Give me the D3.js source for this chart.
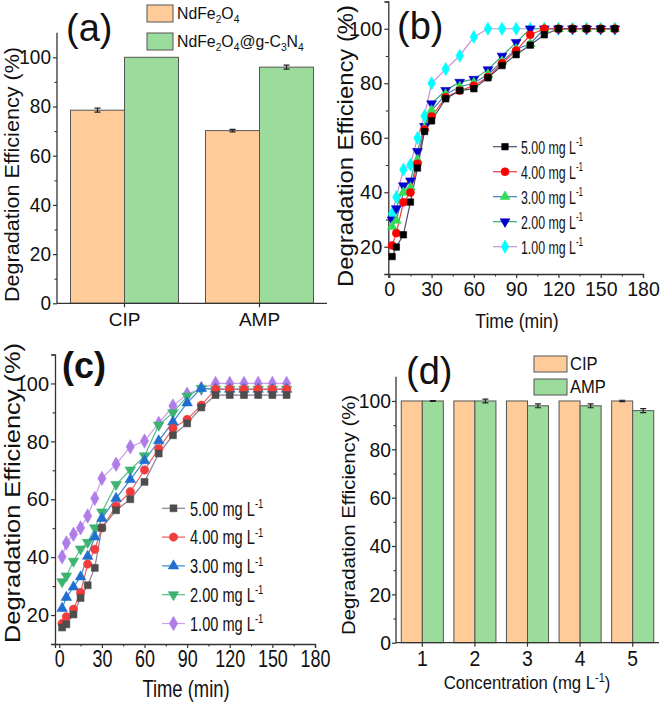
<!DOCTYPE html>
<html><head><meta charset="utf-8">
<script src="https://cdn.jsdelivr.net/npm/d3@7"></script>
<style>html,body{margin:0;padding:0;background:#fff}svg{display:block;font-family:"Liberation Sans",Arial,sans-serif}</style>
</head><body>
<svg id="c" width="661" height="702"></svg>
<script>
// ---------- data ----------
const catsA = ["CIP", "AMP"];
const aNdFe = [78.5, 70.2];
const aNdFeErr = [0.8, 0.5];
const aComp = [100, 96];
const aCompErr = [0, 0.8];

const timeMin = [2,5,10,15,20,25,30,40,50,60,70,80,90,100,110,120,130,140,150,160];
const b5 = [16.4,19.9,24.4,36.4,48.9,62.3,66.2,74.3,77.3,78.0,82.0,86.5,90.5,94.0,97.8,100,100,100,100,100];
const b4 = [20.5,25.0,36.3,39.9,50.5,63.0,67.8,74.9,77.3,79.1,82.3,87.3,92.0,97.8,100,100,100,100,100,100];
const b3 = [27.4,29.7,39.9,41.8,51.9,63.5,70.0,75.9,78.7,80.1,83.2,88.0,92.5,94.5,100,100,100,100,100,100];
const b2 = [29.9,34.0,42.4,44.2,55.0,64.2,72.5,77.4,80.4,81.5,85.0,90.0,95.0,100,100,100,100,100,100,100];
const b1 = [32.1,38.2,48.3,50.1,59.9,68.0,80.0,85.2,90.1,97.0,100,100,100,100,100,100,100,100,100,100];

const c5 = [15.7,16.8,20.2,25.9,30.3,36.3,50.1,56.2,60.0,66.0,75.8,82.1,86.2,91.7,96,96,96,96,96,96];
const c4 = [17.1,19.4,22.0,27.8,37.6,42.7,50.1,57.6,62.6,70.1,77.5,84.5,87.6,92.5,98,98,98,98,98,98];
const c3 = [22.3,26.1,29.7,33.2,40.3,47.0,53.4,60.3,66.8,73.3,80.2,86.7,93.3,98.3,98,98,98,98,98,98];
const c2 = [31.5,33.5,38.6,42.8,45.1,50.1,55.6,65.1,70.1,75.0,85.6,89.9,95.6,98.3,98,98,98,98,98,98];
const c1 = [40.1,44.9,47.9,50.1,54.2,60.3,67.2,72.1,78.1,80.1,86.2,92.2,96.3,98.3,100,100,100,100,100,100];

const seriesNames = ["5.00", "4.00", "3.00", "2.00", "1.00"];

const concD = ["1", "2", "3", "4", "5"];
const dCIP = [100, 100, 100, 100, 100];
const dCIPErr = [0, 0, 0, 0, 0.3];
const dAMP = [100, 100, 98, 98, 96];
const dAMPErr = [0.2, 0.8, 0.8, 0.8, 0.8];

const effTicks = [0, 20, 40, 60, 80, 100];
const effMinor = [10, 30, 50, 70, 90];
const effTicksBC = [20, 40, 60, 80, 100];
const effMinorBC = [10, 30, 50, 70, 90, 110];
const timeTicks = [0, 30, 60, 90, 120, 150, 180];
const timeMinor = [15, 45, 75, 105, 135, 165];

// ---------- helpers ----------
const svg = d3.select("#c");
const ORANGE = "#FFCC99", GREEN = "#9BDB9B", BARSTROKE = "#555";
const AX = "#333";

function txt(p, x, y, s, o = {}) {
  const t = p.append("text")
    .attr("transform", `translate(${x},${y}) rotate(${o.rot || 0}) scale(${o.sx || 1},1)`)
    .attr("text-anchor", o.anchor || "start")
    .attr("font-size", o.size || 18)
    .attr("font-weight", o.weight || "normal")
    .attr("fill", "#111");
  if (o.len) t.attr("textLength", o.len).attr("lengthAdjust", "spacingAndGlyphs");
  return t;
}
function richText(t, parts, size) {
  parts.forEach(pp => {
    const [s, kind] = pp;
    const ts = t.append("tspan").text(s);
    if (kind === "sub") ts.attr("font-size", size * 0.65).attr("dy", size * 0.25);
    else if (kind === "sup") ts.attr("font-size", size * 0.65).attr("dy", -size * 0.38);
    else if (kind === "back-sub") ts.attr("dy", -size * 0.25);
    else if (kind === "back-sup") ts.attr("dy", size * 0.38);
  });
}
function styleAxis(g, size, sx) {
  g.select(".domain").attr("stroke", AX).attr("stroke-width", 1.3);
  g.selectAll(".tick line").attr("stroke", AX).attr("stroke-width", 1.2);
  g.selectAll(".tick text").attr("font-size", size).attr("fill", "#111")
    .attr("font-family", '"Liberation Sans",Arial,sans-serif');
  if (sx && sx !== 1) {
    g.selectAll(".tick text").each(function () {
      const el = d3.select(this);
      const x = +el.attr("x") || 0;
      el.attr("x", x / sx).attr("transform", `scale(${sx},1)`);
    });
  }
}
function minorAxis(g, axisFn, scale, vals, size) {
  g.append("g").call(axisFn(scale).tickValues(vals).tickSize(size).tickFormat(""))
    .call(s => { s.select(".domain").remove(); s.selectAll("line").attr("stroke", AX).attr("stroke-width", 1.1); });
}

// ---------- panel (a) ----------
(function () {
  const x = d3.scaleBand().domain(catsA).range([57, 327]).paddingInner(0.2).paddingOuter(0.1);
  const xs = d3.scaleBand().domain(["n", "c"]).range([0, x.bandwidth()]);
  const y = d3.scaleLinear().domain([0, 110]).range([303.3, 32.7]);
  const g = svg.append("g");
  const data = catsA.map((c, i) => ({ c, v: [[aNdFe[i], aNdFeErr[i], ORANGE, "n"], [aComp[i], aCompErr[i], GREEN, "c"]] }));
  data.forEach(d => {
    d.v.forEach(([v, e, col, k]) => {
      g.append("rect").attr("x", x(d.c) + xs(k)).attr("y", y(v)).attr("width", xs.bandwidth())
        .attr("height", y(0) - y(v)).attr("fill", col).attr("stroke", BARSTROKE).attr("stroke-width", 1);
      if (e > 0) {
        const cx = x(d.c) + xs(k) + xs.bandwidth() / 2;
        g.append("path").attr("d", `M${cx - 3},${y(v + e)}H${cx + 3}M${cx},${y(v + e)}V${y(v - e)}M${cx - 3},${y(v - e)}H${cx + 3}`)
          .attr("stroke", "#222").attr("stroke-width", 1.2).attr("fill", "none");
      }
    });
  });
  const xa = g.append("g").attr("transform", `translate(0,${y(0)})`)
    .call(d3.axisBottom(x).tickSize(4).tickPadding(5));
  styleAxis(xa, 19, 1);
  xa.select(".domain").attr("d", `M57,0H327`);
  const ya = g.append("g").attr("transform", "translate(57,0)")
    .call(d3.axisLeft(y).tickValues(effTicks).tickSize(4).tickPadding(2));
  styleAxis(ya, 20, 0.95);
  ya.select(".domain").attr("d", `M0,${y(110)}V${y(0)}`);
  minorAxis(ya, d3.axisLeft, y, effMinor, 2.5);
  txt(g, 19, 174.5, "", { rot: -90, anchor: "middle", size: 21, len: 255 }).text("Degradation Efficiency (%)");
  txt(g, 66, 41, "", { size: 38 }).text("(a)");
  // legend
  g.append("rect").attr("x", 147).attr("y", 5).attr("width", 26).attr("height", 17).attr("fill", ORANGE).attr("stroke", BARSTROKE);
  g.append("rect").attr("x", 147).attr("y", 33).attr("width", 26).attr("height", 17).attr("fill", GREEN).attr("stroke", BARSTROKE);
  richText(txt(g, 177, 19, "", { size: 17, sx: 0.93 }), [["NdFe"], ["2", "sub"], ["O", "back-sub"], ["4", "sub"]], 17);
  richText(txt(g, 177, 47, "", { size: 17, sx: 0.93 }), [["NdFe"], ["2", "sub"], ["O", "back-sub"], ["4", "sub"], ["@g-C", "back-sub"], ["3", "sub"], ["N", "back-sub"], ["4", "sub"]], 17);
})();

// ---------- line panels ----------
function linePanel(o) {
  const g = svg.append("g");
  const x = d3.scaleLinear().domain(o.xdom).range(o.xr);
  const y = d3.scaleLinear().domain([10, 110]).range(o.yr);
  const xa = g.append("g").attr("transform", `translate(0,${o.yr[0]})`)
    .call(d3.axisBottom(x).tickValues(timeTicks).tickSize(4).tickPadding(o.xpad));
  styleAxis(xa, o.xfs, o.xsx);
  minorAxis(xa, d3.axisBottom, x, timeMinor, 2.5);
  const ya = g.append("g").attr("transform", `translate(${o.xr[0]},0)`)
    .call(d3.axisLeft(y).tickValues(effTicksBC).tickSize(4).tickPadding(2));
  styleAxis(ya, o.yfs, o.ysx);
  minorAxis(ya, d3.axisLeft, y, effMinorBC, 2.5);
  const line = d3.line().x((d, i) => x(timeMin[i])).y(d => y(d));
  const order = [4, 3, 2, 1, 0];
  order.forEach(k => {
    const s = o.series[k];
    g.append("path").datum(s.v).attr("d", line).attr("fill", "none").attr("stroke", s.line).attr("stroke-width", 1.2);
  });
  order.forEach(k => {
    const s = o.series[k];
    const sym = d3.symbol().type(s.sym).size(s.size || o.msize);
    g.selectAll(null).data(s.v).join("path")
      .attr("transform", (d, i) => `translate(${x(timeMin[i])},${y(d)})${s.flip ? " rotate(180)" : ""}`)
      .attr("d", sym).attr("fill", s.fill).attr("stroke", s.stroke || s.fill).attr("stroke-width", 0.6);
  });
  // legend
  o.series.forEach((s, i) => {
    const cy = o.leg.y0 + i * o.leg.dy;
    g.append("line").attr("x1", o.leg.x0).attr("x2", o.leg.x1).attr("y1", cy).attr("y2", cy).attr("stroke", s.line).attr("stroke-width", 1.2);
    g.append("path").attr("transform", `translate(${(o.leg.x0 + o.leg.x1) / 2},${cy})${s.flip ? " rotate(180)" : ""}`)
      .attr("d", d3.symbol().type(s.sym).size(s.size || o.msize)).attr("fill", s.fill).attr("stroke", s.stroke || s.fill).attr("stroke-width", 0.6);
    const t = txt(g, o.leg.tx, cy + o.leg.fs * 0.36, "", { size: o.leg.fs, sx: o.leg.sx });
    richText(t, [[seriesNames[i] + " mg L"], ["-1", "sup"]], o.leg.fs);
  });
  txt(g, o.ytitle.x, o.ytitle.y, "", { rot: -90, anchor: "middle", size: o.ytitle.size, len: o.ytitle.len }).text("Degradation Efficiency (%)");
  txt(g, o.xtitle.x, o.xtitle.y, "", { anchor: "middle", size: o.xtitle.size, sx: o.xtitle.sx }).text("Time (min)");
  txt(g, o.label.x, o.label.y, "", { size: o.label.size, weight: o.label.weight }).text(o.label.t);
}

linePanel({
  xdom: [-0.7, 180], xr: [388.3, 643], yr: [274, 1.5], xpad: 3, xfs: 21, yfs: 21, xsx: 0.93, ysx: 0.95, msize: 42,
  series: [
    { v: b5, sym: d3.symbolSquare, fill: "#000", line: "#4B4B6E" },
    { v: b4, sym: d3.symbolCircle, fill: "#FF0000", line: "#FF3B3B", size: 50 },
    { v: b3, sym: d3.symbolTriangle, fill: "#33DD55", line: "#3F7FBF" },
    { v: b2, sym: d3.symbolTriangle, fill: "#0000CC", line: "#33AA77", flip: true },
    { v: b1, sym: d3.symbolDiamond, fill: "#00FFFF", line: "#C88FD8", size: 50 }
  ],
  leg: { x0: 493, x1: 517, tx: 521, y0: 146.7, dy: 25, fs: 19, sx: 0.65 },
  ytitle: { x: 353, y: 146, size: 22, len: 282 },
  xtitle: { x: 517, y: 328, size: 20, sx: 0.88 },
  label: { x: 397, y: 39, size: 38, t: "(b)" }
});

linePanel({
  xdom: [-3, 180], xr: [55, 315], yr: [644, 354.5], xpad: 3, xfs: 23, yfs: 21, xsx: 0.78, ysx: 0.95, msize: 48,
  series: [
    { v: c5, sym: d3.symbolSquare, fill: "#4D4D4D", line: "#8A7F9A" },
    { v: c4, sym: d3.symbolCircle, fill: "#F03C3C", line: "#F05A5A", size: 55 },
    { v: c3, sym: d3.symbolTriangle, fill: "#1F6FD0", line: "#3A86D0" },
    { v: c2, sym: d3.symbolTriangle, fill: "#3CB371", line: "#55C085", flip: true },
    { v: c1, sym: d3.symbolDiamond, fill: "#B07DE8", line: "#C9A0E8", size: 60 }
  ],
  leg: { x0: 162, x1: 185, tx: 190, y0: 508.3, dy: 28.8, fs: 20, sx: 0.73 },
  ytitle: { x: 20, y: 493, size: 22, len: 300 },
  xtitle: { x: 186, y: 697, size: 23, sx: 0.8 },
  label: { x: 62, y: 378, size: 36, weight: "bold", t: "(c)" }
});

// ---------- panel (d) ----------
(function () {
  const x = d3.scaleBand().domain(concD).range([396, 659]).paddingInner(0.2).paddingOuter(0.1);
  const xs = d3.scaleBand().domain(["c", "a"]).range([0, x.bandwidth()]);
  const y = d3.scaleLinear().domain([0, 110]).range([642.7, 376.8]);
  const g = svg.append("g");
  concD.forEach((c, i) => {
    [[dCIP[i], dCIPErr[i], ORANGE, "c"], [dAMP[i], dAMPErr[i], GREEN, "a"]].forEach(([v, e, col, k]) => {
      g.append("rect").attr("x", x(c) + xs(k)).attr("y", y(v)).attr("width", xs.bandwidth())
        .attr("height", y(0) - y(v)).attr("fill", col).attr("stroke", BARSTROKE).attr("stroke-width", 1);
      if (e > 0) {
        const cx = x(c) + xs(k) + xs.bandwidth() / 2;
        g.append("path").attr("d", `M${cx - 3},${y(v + e)}H${cx + 3}M${cx},${y(v + e)}V${y(v - e)}M${cx - 3},${y(v - e)}H${cx + 3}`)
          .attr("stroke", "#222").attr("stroke-width", 1.2).attr("fill", "none");
      }
    });
  });
  const xa = g.append("g").attr("transform", `translate(0,${y(0)})`)
    .call(d3.axisBottom(x).tickSize(4).tickPadding(4));
  styleAxis(xa, 22, 0.88);
  xa.select(".domain").attr("d", "M396,0H659");
  const ya = g.append("g").attr("transform", "translate(396,0)")
    .call(d3.axisLeft(y).tickValues(effTicks).tickSize(4).tickPadding(1));
  styleAxis(ya, 21, 0.92);
  ya.select(".domain").attr("d", `M0,${y(110)}V${y(0)}`);
  minorAxis(ya, d3.axisLeft, y, effMinor, 2.5);
  txt(g, 355, 515, "", { rot: -90, anchor: "middle", size: 18, len: 240 }).text("Degradation Efficiency (%)");
  richText(txt(g, 527, 689, "", { anchor: "middle", size: 19, sx: 0.88 }), [["Concentration (mg L"], ["-1", "sup"], [")", "back-sup"]], 19);
  txt(g, 406, 384, "", { size: 38 }).text("(d)");
  g.append("rect").attr("x", 534).attr("y", 356).attr("width", 33).attr("height", 16).attr("fill", ORANGE).attr("stroke", BARSTROKE);
  g.append("rect").attr("x", 534).attr("y", 379).attr("width", 33).attr("height", 16).attr("fill", GREEN).attr("stroke", BARSTROKE);
  txt(g, 570, 370, "", { size: 18, sx: 0.92 }).text("CIP");
  txt(g, 570, 393, "", { size: 18, sx: 0.92 }).text("AMP");
})();
</script>
</body></html>
